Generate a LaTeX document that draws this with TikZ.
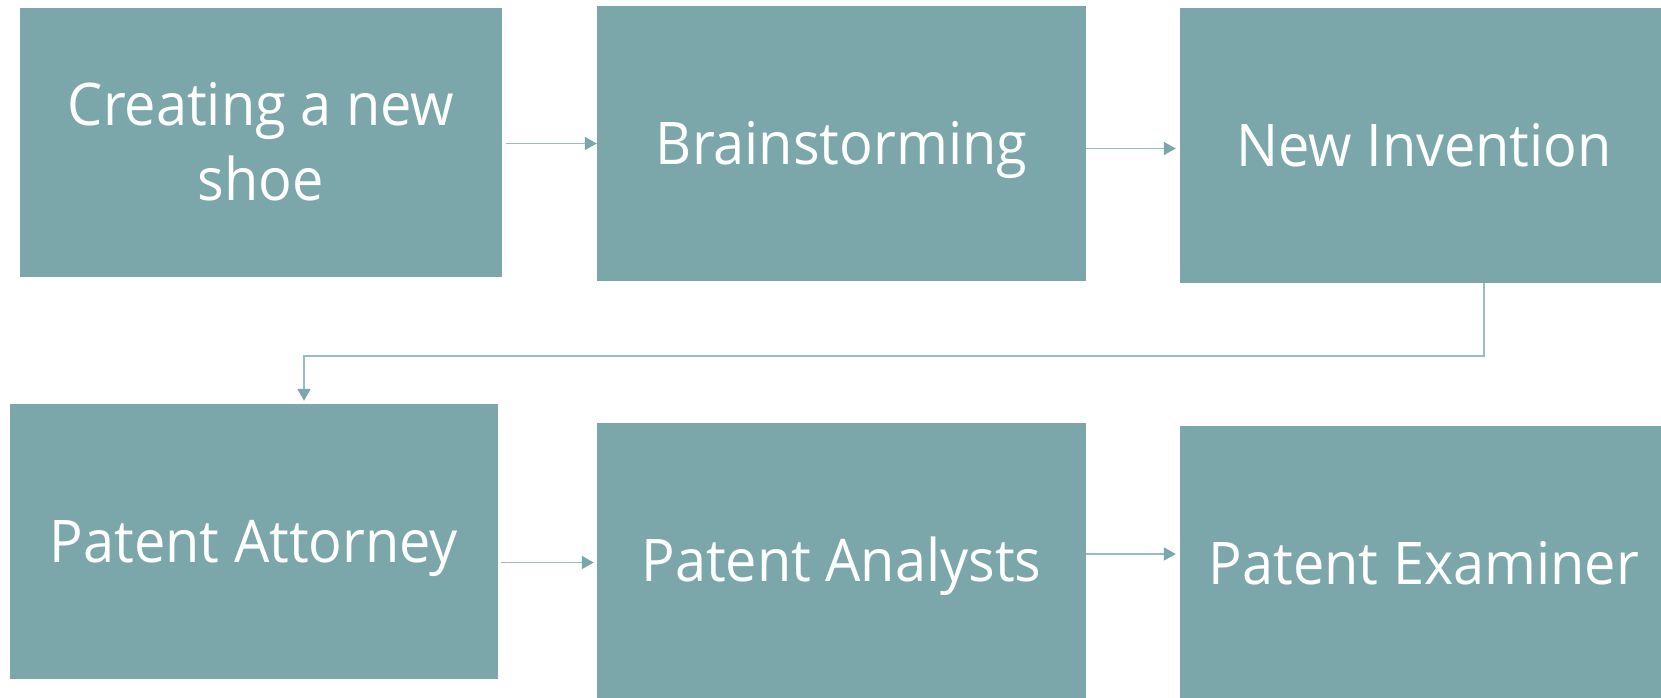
\documentclass[tikz,border=0pt]{standalone}
\usepackage{fontspec}
\setmainfont[FakeStretch=0.95]{Open Sans}
\usetikzlibrary{arrows.meta}
\definecolor{boxc}{RGB}{123,167,171}
\definecolor{linec}{RGB}{150,190,194}
\begin{document}
\begin{tikzpicture}[x=1pt,y=-1pt,
  stepbox/.style={draw=none,fill=boxc,text=white,inner sep=0pt,
    minimum width=#1,minimum height=275pt,
    font=\fontsize{58.8}{75}\selectfont,text height=42pt,text depth=0pt},
  stepbox/.default=488pt,
  lbl/.style={text=white,inner sep=0pt,font=\fontsize{58.8}{75}\selectfont,anchor=base},
  arr/.style={draw=linec,line width=1.6pt,-{Triangle[length=12pt,width=13pt,color=boxc]}}]
\useasboundingbox (0,0) rectangle (1661,697);
\node[stepbox=482pt,minimum height=269pt] (b1) at (261,142.5) {};
\node[lbl] (t1a) at ([yshift=17.5pt]b1.center) {Creating a new};
\node[lbl] (t1b) at ([yshift=-57.5pt]b1.center) {shoe};
\node[stepbox=489pt] (b2) at (841.5,143.5) {Brainstorming};
\node[stepbox] (b3) at (1424,145.5) {New Invention};
\node[stepbox] (b4) at (254,541.5) {Patent Attorney};
\node[stepbox=489pt] (b5) at (841.5,560.5) {Patent Analysts};
\node[stepbox] (b6) at (1424,563.5) {Patent Examiner};
\coordinate (k1) at ([xshift=60pt]b3.south |- 0,355.7);
\coordinate (k2) at ([xshift=50pt]b4.north |- 0,355.7);
\draw[arr,shorten <=4pt] ([yshift=-1pt]b1.east) -- ([yshift=-1pt]b1.east -| b2.west);
\draw[arr,shorten >=4pt] ([yshift=-5pt]b2.east) -- ([yshift=-5pt]b2.east -| b3.west);
\draw[arr,shorten >=3pt] ([xshift=60pt]b3.south) -- (k1) -- (k2) -- ([xshift=50pt]b4.north);
\draw[arr,shorten <=3pt,shorten >=3pt] ([yshift=-21pt]b4.east) -- ([yshift=-21pt]b4.east -| b5.west);
\draw[arr,shorten >=4pt] ([yshift=6.5pt]b5.east) -- ([yshift=6.5pt]b5.east -| b6.west);
\end{tikzpicture}
\end{document}
